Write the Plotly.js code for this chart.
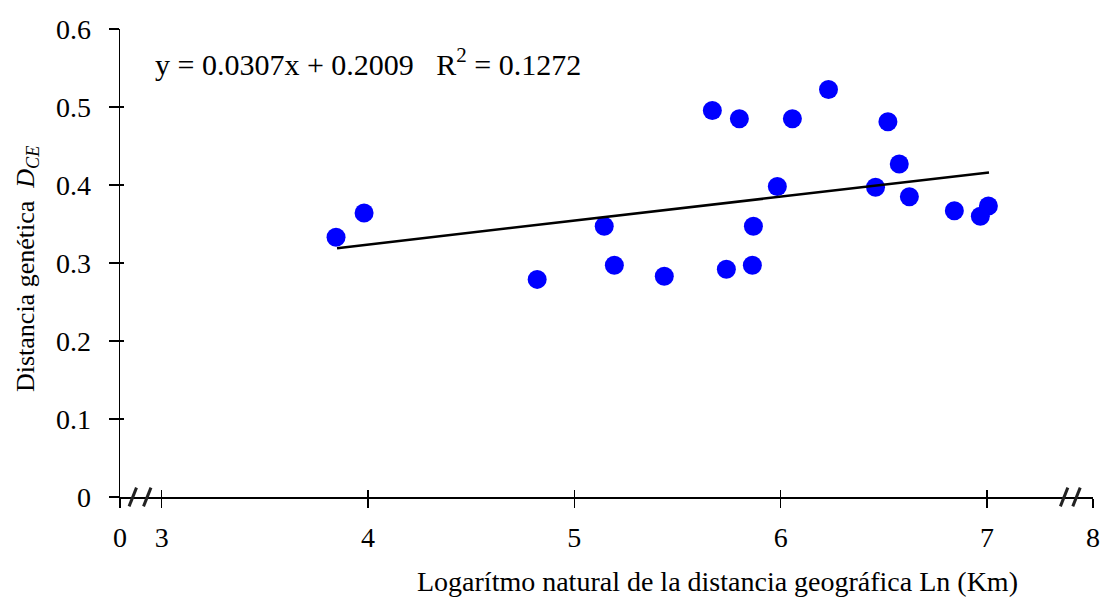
<!DOCTYPE html>
<html>
<head>
<meta charset="utf-8">
<script src="https://cdn.plot.ly/plotly-3.0.1.min.js"></script>
<style>html,body{margin:0;padding:0;background:#fff;}#chart{width:1105px;height:597px;}</style>
</head>
<body>
<div id="chart"></div>
<script>
// Data
const lnDist = [3.845, 3.981, 4.82, 5.145, 5.194, 5.436, 5.669, 5.737, 5.80, 5.863, 5.868, 5.984, 6.057, 6.232, 6.46, 6.52, 6.575, 6.624, 6.842, 6.968, 7.007];
const genDist = [0.333, 0.364, 0.279, 0.347, 0.297, 0.283, 0.4955, 0.292, 0.485, 0.297, 0.347, 0.398, 0.485, 0.5225, 0.397, 0.481, 0.427, 0.385, 0.367, 0.360, 0.373];
const trendX = [3.85, 7.01];
const trendY = [0.319, 0.416];
const xTickVals = [2.798, 3, 4, 5, 6, 7, 7.514];
const xTickText = ['0', '3', '4', '5', '6', '7', '8'];
const yTickVals = [0, 0.1, 0.2, 0.3, 0.4, 0.5, 0.6];
const yTickText = ['0', '0.1', '0.2', '0.3', '0.4', '0.5', '0.6'];
const eqText = 'y = 0.0307x + 0.2009   R<sup>2</sup> = 0.1272';
const xTitle = 'Logarítmo natural de la distancia geográfica Ln (Km)';
const yTitle = 'Distancia genética  <i>D<sub>CE</sub></i>';
const breakLeft = 2.895, breakRight = 7.404;

const FONT = '"Liberation Serif", "Times New Roman", serif';
const xRange = [2.798, 7.514];
const yRange = [0, 0.6];

const traces = [
  {x: lnDist, y: genDist, type: 'scatter', mode: 'markers',
   marker: {color: '#0000FF', size: 19}, hoverinfo: 'skip', showlegend: false},
  {x: trendX, y: trendY, type: 'scatter', mode: 'lines',
   line: {color: '#000000', width: 2.5}, hoverinfo: 'skip', showlegend: false},
  {x: [null], y: [null], xaxis: 'x2', yaxis: 'y2', type: 'scatter', mode: 'markers', showlegend: false, hoverinfo: 'skip'}
];

function slash(xc, dx) {
  return {type: 'line', xref: 'x', yref: 'paper', x0: xc + dx - 0.018, x1: xc + dx + 0.018,
          y0: -0.02, y1: 0.02, line: {color: '#222', width: 3}};
}

const layout = {
  width: 1105, height: 597,
  margin: {l: 120, r: 12, t: 29, b: 100},
  paper_bgcolor: '#fff', plot_bgcolor: '#fff',
  font: {family: FONT, color: '#000', size: 28},
  showlegend: false,
  xaxis: {range: xRange, tickvals: xTickVals, ticktext: xTickText, showgrid: false, zeroline: false,
          showline: true, linecolor: '#000', linewidth: 1.5, ticks: 'outside', ticklen: 9, tickwidth: 1.5,
          tickcolor: '#000', tickfont: {family: FONT, size: 28, color: '#000'}, ticklabelstandoff: 6, fixedrange: true},
  yaxis: {range: yRange, tickvals: yTickVals, ticktext: yTickText, showgrid: false, zeroline: false,
          showline: true, linecolor: '#000', linewidth: 1.5, ticks: 'outside', ticklen: 10, tickwidth: 1.5,
          tickcolor: '#000', tickfont: {family: FONT, size: 28, color: '#000'}, ticklabelstandoff: 12, fixedrange: true},
  xaxis2: {range: xRange, overlaying: 'x', tickvals: xTickVals, showticklabels: false, showgrid: false,
           zeroline: false, ticks: 'inside', ticklen: 7, tickwidth: 1.5, tickcolor: '#000', fixedrange: true},
  yaxis2: {range: yRange, overlaying: 'y', tickvals: yTickVals, showticklabels: false, showgrid: false,
           zeroline: false, ticks: 'inside', ticklen: 4, tickwidth: 1.5, tickcolor: '#000', fixedrange: true},
  shapes: [slash(breakLeft, -0.035), slash(breakLeft, 0.035), slash(breakRight, -0.03), slash(breakRight, 0.03)],
  annotations: [
    {text: eqText, xref: 'paper', yref: 'paper', x: (153 - 120) / 973, y: 1 - (62 - 29) / 466,
     xanchor: 'left', yanchor: 'middle', showarrow: false, font: {family: FONT, size: 30, color: '#000'}},
    {text: xTitle, xref: 'paper', yref: 'paper', x: (717 - 120) / 973, y: -(579 - 495) / 466,
     xanchor: 'center', yanchor: 'middle', showarrow: false, font: {family: FONT, size: 28, color: '#000'}},
    {text: yTitle, xref: 'paper', yref: 'paper', x: -(120 - 27) / 973, y: 1 - (268 - 29) / 466,
     xanchor: 'center', yanchor: 'middle', textangle: -90, showarrow: false, font: {family: FONT, size: 26, color: '#000'}}
  ]
};

Plotly.newPlot('chart', traces, layout, {displayModeBar: false, staticPlot: true});
</script>
</body>
</html>
